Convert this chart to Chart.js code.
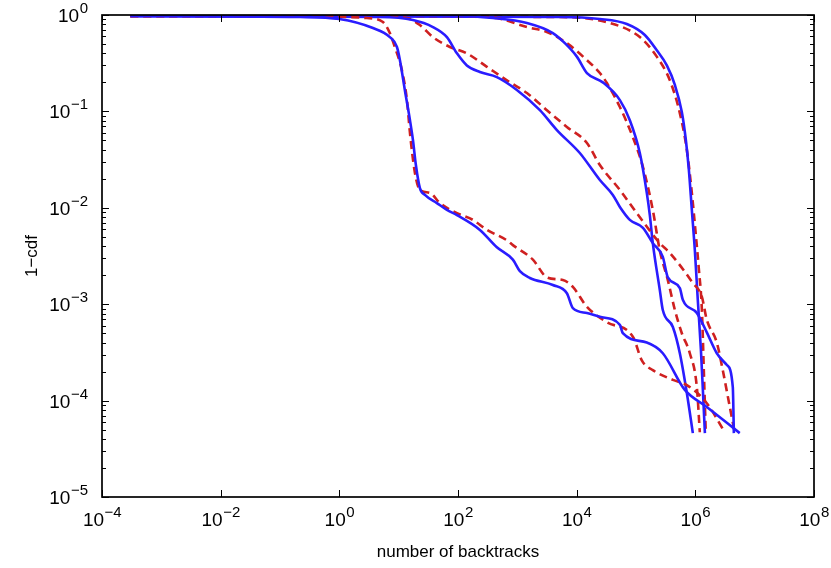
<!DOCTYPE html>
<html><head><meta charset="utf-8">
<script src="https://cdn.jsdelivr.net/npm/chart.js@4.4.1/dist/chart.umd.min.js"></script>
<style>html,body{margin:0;padding:0;background:#fff}#wrap{width:831px;height:568px}</style>
</head><body><div id="wrap"><canvas id="c" width="831" height="568"></canvas></div>
<script>
// ---- tick labels (exponents of 10) ----
const xTickExponents = [-4, -2, 0, 2, 4, 6, 8];
const yTickExponents = [0, -1, -2, -3, -4, -5];
const xTitle = 'number of backtracks';
const yTitle = '1\u2212cdf';

// ---- series (x = number of backtracks, y = 1-cdf) ----
const blueA_x = [3.0e-4, 0.22, 1.0, 3.68, 7.1, 9.35, 10.5, 12.7, 15.5, 17.4, 19.5, 22.8, 27.7, 44.1, 65, 96, 234, 452, 841, 1104, 1626, 3970, 6840, 8630, 14900, 24600, 53500, 60000, 152000, 283000, 665000, 1.56e6, 5.6e6];
const blueA_y = [0.976, 0.953, 0.909, 0.733, 0.59, 0.466, 0.34, 0.167, 0.081, 0.0505, 0.0278, 0.016, 0.0136, 0.0112, 0.0095, 0.0084, 0.0059, 0.0039, 0.0029, 0.0022, 0.00187, 0.00158, 0.0013, 0.00091, 0.00081, 0.00074, 0.00061, 0.0005, 0.0004, 0.00031, 0.000129, 8.6e-5, 4.6e-5];
const redA_x = [3e-4, 0.22, 2.92, 5.43, 7.1, 8.6, 11.3, 13.8, 15.5, 18.8, 22.8, 33.6, 49.5, 96, 178, 307, 667, 841, 1830, 3150, 5850, 8630, 14900, 32300, 88500, 126000, 192000, 418000, 719000, 1.56e6, 3.14e6];
const redA_y = [0.976, 0.976, 0.93, 0.846, 0.65, 0.466, 0.27, 0.131, 0.0597, 0.023, 0.0153, 0.0143, 0.0112, 0.0088, 0.0075, 0.0059, 0.0046, 0.0041, 0.0029, 0.0019, 0.00178, 0.00151, 0.00094, 0.00065, 0.00046, 0.00026, 0.000207, 0.000164, 0.000145, 9.4e-5, 4.7e-5];
const blueB_x = [3e-4, 4.83, 17.4, 37.8, 65, 96, 141, 234, 452, 982, 2400, 4640, 11300, 24600, 40700, 53500, 78700, 131000, 192000, 283000, 344000, 548000, 615000, 1.06e6, 1.56e6, 2.30e6, 3.40e6, 4.28e6, 4.46e6];
const blueB_y = [0.976, 0.953, 0.887, 0.75, 0.59, 0.40, 0.30, 0.256, 0.227, 0.167, 0.103, 0.064, 0.037, 0.0194, 0.0136, 0.0102, 0.0075, 0.0062, 0.0043, 0.0031, 0.0019, 0.00147, 0.00111, 0.00081, 0.00051, 0.00031, 0.000234, 0.000138, 4.6e-5];
const redB_x = [3e-4, 4.83, 13.8, 22.8, 37.8, 73, 141, 307, 667, 1450, 3150, 6840, 14900, 24600, 53500, 103000, 252000, 372000, 908000, 1.29e6, 1.56e6, 2.30e6, 2.90e6, 3.81e6, 4.63e6];
const redB_y = [0.976, 0.976, 0.93, 0.787, 0.59, 0.466, 0.40, 0.29, 0.21, 0.155, 0.103, 0.069, 0.047, 0.0278, 0.0153, 0.0088, 0.0043, 0.0034, 0.00166, 0.00119, 0.00069, 0.0004, 0.000207, 8.6e-5, 4.6e-5];
const blueC_x = [3e-4, 108, 387, 1450, 3970, 6330, 10070, 14900, 27600, 53500, 78700, 116000, 152000, 171000, 192000, 252000, 283000, 418000, 548000, 719000, 908000];
const blueC_y = [0.976, 0.976, 0.93, 0.826, 0.65, 0.51, 0.37, 0.25, 0.20, 0.131, 0.081, 0.037, 0.0143, 0.0084, 0.0043, 0.0014, 0.00087, 0.00058, 0.00031, 0.00012, 4.6e-5];
const redC_x = [3e-4, 135, 452, 1450, 3150, 6840, 14900, 24600, 32300, 53500, 88500, 131000, 192000, 252000, 344000, 452000, 592000, 807000, 1.06e6, 1.19e6];
const redC_y = [0.976, 0.976, 0.93, 0.75, 0.667, 0.51, 0.34, 0.25, 0.197, 0.111, 0.054, 0.0265, 0.0095, 0.0036, 0.00178, 0.00087, 0.0005, 0.00031, 0.000138, 4.7e-5];
const blueD_x = [3e-4, 5210, 24600, 70100, 141000, 224000, 331000, 452000, 592000, 692000, 778000, 873000, 982000, 1.10e6, 1.24e6, 1.34e6, 1.45e6];
const blueD_y = [0.976, 0.953, 0.909, 0.807, 0.62, 0.43, 0.30, 0.188, 0.0986, 0.0505, 0.0247, 0.0095, 0.0036, 0.00111, 0.00034, 0.000129, 4.6e-5];
const redD_x = [3e-4, 5210, 36200, 116000, 224000, 372000, 548000, 719000, 873000, 1.02e6, 1.15e6, 1.29e6, 1.39e6, 1.50e6];
const redD_y = [0.976, 0.953, 0.826, 0.59, 0.37, 0.21, 0.096, 0.04, 0.0143, 0.0052, 0.00226, 0.00087, 0.000207, 4.6e-5];

const BLUE = '#2a1cff';
const RED = '#cf2020';
const FONT = '"Liberation Sans", Arial, Helvetica, sans-serif';

function pts(xs, ys) { return xs.map((v, i) => ({x: v, y: ys[i]})); }
function blue(xs, ys) {
  return {data: pts(xs, ys), borderColor: BLUE, borderWidth: 2.6, pointRadius: 0, fill: false,
          cubicInterpolationMode: 'monotone'};
}
function red(xs, ys) {
  return {data: pts(xs, ys), borderColor: RED, borderWidth: 2.6, borderDash: [8, 5], pointRadius: 0,
          fill: false, cubicInterpolationMode: 'monotone'};
}

const framePlugin = {
  id: 'frame',
  afterDatasetsDraw(chart) {
    const {ctx, chartArea: a, scales: {x, y}} = chart;
    ctx.save();
    ctx.strokeStyle = '#000';
    ctx.lineWidth = 1;
    const seg = (x1, y1, x2, y2) => { ctx.beginPath(); ctx.moveTo(x1, y1); ctx.lineTo(x2, y2); ctx.stroke(); };
    // x ticks (bottom & top)
    for (const e of xTickExponents) {
      const px = Math.round(x.getPixelForValue(Math.pow(10, e))) + 0.5;
      seg(px, a.bottom, px, a.bottom - 7);
      seg(px, a.top, px, a.top + 7);
    }
    // y ticks, major + minor (left & right)
    for (let e = -5; e <= 0; e++) {
      for (let m = 1; m <= 9; m++) {
        const v = m * Math.pow(10, e);
        if (v > 1.0000001) break;
        const py = Math.round(y.getPixelForValue(v)) + 0.5;
        const len = m === 1 ? 7 : 4;
        seg(a.left, py, a.left + len, py);
        seg(a.right, py, a.right - len, py);
      }
    }
    // frame
    ctx.lineWidth = 1.7;
    ctx.strokeRect(a.left, a.top, a.right - a.left, a.bottom - a.top);

    // tick labels with superscript exponents
    ctx.fillStyle = '#000';
    ctx.textBaseline = 'alphabetic';
    const bigF = '19px ' + FONT, supF = '15px ' + FONT;
    const expText = e => (e < 0 ? '\u2212' : '') + Math.abs(e);
    for (const e of xTickExponents) {
      const px = x.getPixelForValue(Math.pow(10, e));
      ctx.font = bigF; const w1 = ctx.measureText('10').width;
      ctx.font = supF; const w2 = ctx.measureText(expText(e)).width;
      const x0 = px - (w1 + w2) / 2;
      const base = a.bottom + 29;
      ctx.font = bigF; ctx.textAlign = 'left'; ctx.fillText('10', x0, base);
      ctx.font = supF; ctx.fillText(expText(e), x0 + w1 + 0.5, base - 9);
    }
    for (const e of yTickExponents) {
      const py = y.getPixelForValue(Math.pow(10, e));
      ctx.font = supF; const w2 = ctx.measureText(expText(e)).width;
      const right = a.left - 14;
      ctx.textAlign = 'left';
      ctx.font = supF; ctx.fillText(expText(e), right - w2, py - 2);
      ctx.font = bigF; ctx.textAlign = 'right'; ctx.fillText('10', right - w2 - 0.5, py + 7);
    }
    ctx.restore();
  }
};

new Chart(document.getElementById('c'), {
  type: 'line',
  data: {
    datasets: [
      blue(blueA_x, blueA_y), red(redA_x, redA_y),
      blue(blueB_x, blueB_y), red(redB_x, redB_y),
      blue(blueC_x, blueC_y), red(redC_x, redC_y),
      blue(blueD_x, blueD_y), red(redD_x, redD_y)
    ]
  },
  options: {
    responsive: false,
    animation: false,
    devicePixelRatio: 1,
    layout: {padding: {left: 0, right: 17, top: 15, bottom: 0}},
    plugins: {legend: {display: false}, tooltip: {enabled: false}},
    scales: {
      x: {
        type: 'logarithmic', min: 1e-4, max: 1e8,
        grid: {display: false}, border: {display: false},
        ticks: {display: false},
        title: {display: true, text: xTitle, color: '#000', font: {family: FONT, size: 17}, padding: {top: 0, bottom: 5}},
        afterFit: s => { s.height = 71; }
      },
      y: {
        type: 'logarithmic', min: 1e-5, max: 1,
        grid: {display: false}, border: {display: false},
        ticks: {display: false},
        title: {display: true, text: yTitle, color: '#000', font: {family: FONT, size: 17}, padding: {top: 22, bottom: 0}},
        afterFit: s => { s.width = 102; }
      }
    }
  },
  plugins: [framePlugin]
});
</script>
</body></html>
